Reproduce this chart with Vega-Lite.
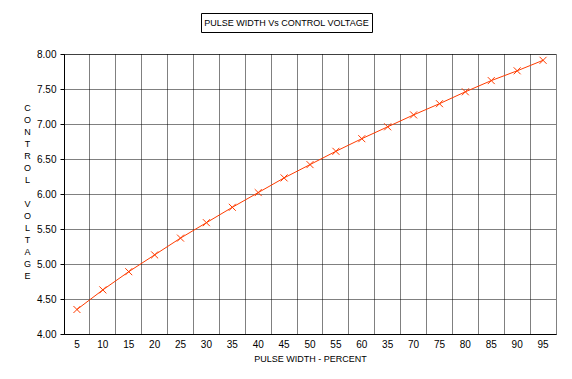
{
  "$schema": "https://vega.github.io/schema/vega-lite/v6.json",
  "background": "white",
  "padding": {"left": 22, "top": 12, "right": 0, "bottom": 0},
  "config": {"font": "Liberation Sans"},
  "bounds": "flush",
  "center": false,
  "spacing": 41,
  "vconcat": [
    {
      "spacing": 0,
      "bounds": "flush",
      "hconcat": [
        {
          "width": 137,
          "height": 19,
          "view": {"stroke": null, "fill": null},
          "data": {"values": []},
          "mark": {"type": "point", "opacity": 0},
          "encoding": {}
        },
        {
          "width": 171,
          "height": 19,
          "view": {"stroke": "black", "strokeWidth": 1, "fill": "white"},
          "data": {"values": [{"t": "PULSE WIDTH Vs CONTROL VOLTAGE"}]},
          "mark": {"type": "text", "fontSize": 9, "font": "Liberation Sans", "color": "black", "baseline": "middle", "align": "center"},
          "encoding": {"text": {"field": "t", "type": "nominal"}}
        }
      ]
    },
    {
      "width": 492,
      "height": 280,
      "view": {"stroke": "black", "strokeWidth": 1, "strokeDash": [1, 1]},
      "data": {"values": [
        {"pw": 5, "v": 4.35}, {"pw": 10, "v": 4.63}, {"pw": 15, "v": 4.89}, {"pw": 20, "v": 5.13},
        {"pw": 25, "v": 5.37}, {"pw": 30, "v": 5.59}, {"pw": 35, "v": 5.81}, {"pw": 40, "v": 6.02},
        {"pw": 45, "v": 6.23}, {"pw": 50, "v": 6.42}, {"pw": 55, "v": 6.61}, {"pw": 60, "v": 6.79},
        {"pw": 65, "v": 6.96}, {"pw": 70, "v": 7.13}, {"pw": 75, "v": 7.29}, {"pw": 80, "v": 7.46},
        {"pw": 85, "v": 7.62}, {"pw": 90, "v": 7.76}, {"pw": 95, "v": 7.91}
      ]},
      "encoding": {
        "x": {
          "field": "pw", "type": "ordinal",
          "scale": {"type": "band", "paddingInner": 0, "paddingOuter": 0},
          "axis": {
            "title": "PULSE WIDTH - PERCENT",
            "labelAngle": 0,
            "labelExpr": "datum.value == 65 ? '35' : datum.label",
            "bandPosition": 0,
            "ticks": false, "tickSize": 0,
            "labelPadding": 5,
            "labelFontSize": 10, "labelColor": "black", "labelFont": "Liberation Sans",
            "titleFontSize": 9, "titleFontWeight": "normal", "titleColor": "black", "titleFont": "Liberation Sans",
            "titlePadding": 5,
            "domainColor": "black", "domainWidth": 1,
            "grid": true, "gridColor": "black", "gridDash": [1, 1], "gridOpacity": 1, "gridWidth": 1
          }
        },
        "y": {
          "field": "v", "type": "quantitative",
          "scale": {"domain": [4, 8], "nice": false, "zero": false},
          "axis": {
            "values": [4, 4.5, 5, 5.5, 6, 6.5, 7, 7.5, 8],
            "format": ".2f",
            "title": ["C", "O", "N", "T", "R", "O", "L", "\u2800", "V", "O", "L", "T", "A", "G", "E"],
            "titleAngle": 0, "titleX": -37, "titleY": 49, "titleAlign": "center", "titleBaseline": "top",
            "titleLineHeight": 12,
            "titleFontSize": 9, "titleFontWeight": "normal", "titleColor": "black", "titleFont": "Liberation Sans",
            "tickSize": 4, "tickColor": "black", "tickWidth": 1,
            "labelPadding": 4,
            "labelFontSize": 10, "labelColor": "black", "labelFont": "Liberation Sans",
            "domainColor": "black", "domainWidth": 1,
            "grid": true, "gridColor": "black", "gridDash": [1, 1], "gridOpacity": 1, "gridWidth": 1
          }
        }
      },
      "layer": [
        {"mark": {"type": "line", "color": "#ff3c00", "strokeWidth": 1}},
        {"mark": {"type": "point", "shape": "M-1,-1L1,1M1,-1L-1,1", "filled": false, "size": 49, "color": "#ff3c00", "strokeWidth": 1, "opacity": 1}}
      ]
    }
  ]
}
